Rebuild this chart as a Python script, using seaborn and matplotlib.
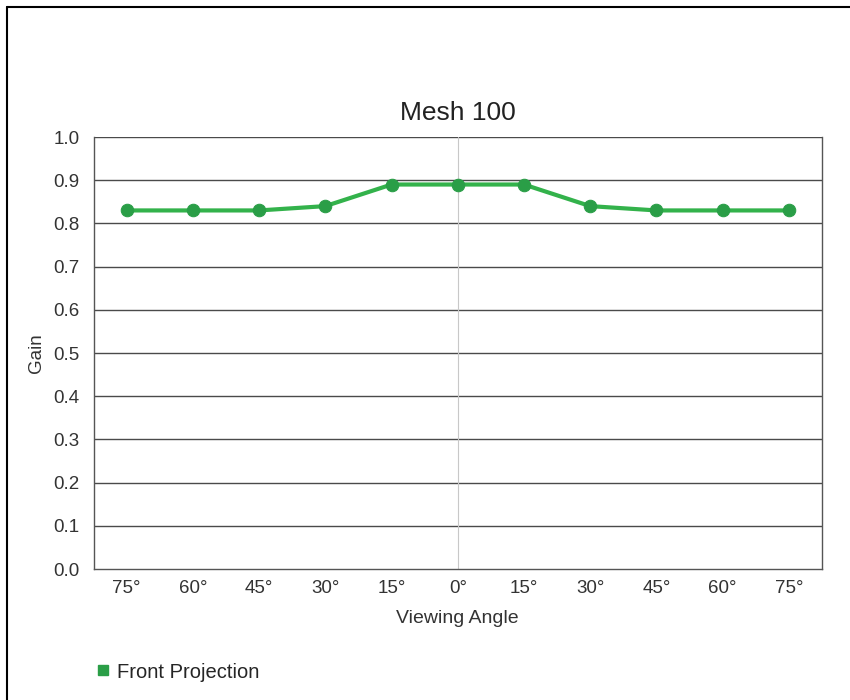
import matplotlib
matplotlib.use('Agg')
import matplotlib.pyplot as plt
from matplotlib.lines import Line2D
import seaborn as sns
import numpy as np
import pandas as pd

# values
angles = ['75°', '60°', '45°', '30°', '15°', '0°', '15°', '30°', '45°', '60°', '75°']
gain = [0.83, 0.83, 0.83, 0.84, 0.89, 0.89, 0.89, 0.84, 0.83, 0.83, 0.83]
yticks = [0.0, 0.1, 0.2, 0.3, 0.4, 0.5, 0.6, 0.7, 0.8, 0.9, 1.0]

data = pd.DataFrame({'pos': np.arange(len(angles)), 'Gain': gain})

sns.set_style('white')
plt.rcParams['font.family'] = ['Liberation Sans', 'DejaVu Sans']

fig = plt.figure(figsize=(8.5, 7), dpi=100)
ax = fig.add_axes([93.5 / 850, 1 - 569 / 700, (822 - 93.5) / 850, (569 - 137) / 700])

for y in yticks[1:]:
    ax.axhline(y, color='#4a4a4a', lw=1, zorder=1)
ax.axvline(5, color='#c8c8c8', lw=0.8, zorder=1)

sns.lineplot(data=data, x='pos', y='Gain', ax=ax, color='#33b24b', lw=3,
             marker='o', markersize=9, markerfacecolor='#2a9e47',
             markeredgecolor='#2a9e47', zorder=3)

ax.set_xlim(-0.5, len(angles) - 0.5)
ax.set_ylim(0, 1.0)
ax.set_yticks(yticks)
ax.set_yticklabels([f'{v:.1f}' for v in yticks], fontsize=13.5, color='#333333')
ax.set_xticks(data['pos'])
ax.set_xticklabels(angles, fontsize=13.5, color='#333333')
ax.set_xticks(np.arange(0.5, len(angles) - 1, 1), minor=True)
ax.tick_params(axis='x', which='major', length=0, pad=8)
ax.tick_params(axis='x', which='minor', length=9, width=1, color='#555555', direction='out')
ax.tick_params(axis='y', length=7, width=1, color='#555555', direction='out', pad=3)

for side in ['left', 'right', 'bottom']:
    ax.spines[side].set_color('#555555')
    ax.spines[side].set_linewidth(1)
ax.spines['top'].set_visible(False)

ax.set_title('Mesh 100', fontsize=19, color='#222222', pad=12)
ax.set_xlabel('Viewing Angle', fontsize=14, color='#333333', labelpad=9)
ax.set_ylabel('Gain', fontsize=13.5, color='#333333', labelpad=6)

handle = Line2D([], [], ls='none', marker='s', markersize=7, color='#2a9e47')
fig.legend([handle], ['Front Projection'], loc='center left',
           bbox_to_anchor=(75 / 850, 1 - 672 / 700), frameon=False,
           fontsize=14.5, handletextpad=0.2, handlelength=1.0)

# outer frame (left and top edges)
fig.add_artist(Line2D([7 / 850, 7 / 850], [0, 1 - 7 / 700], color='black', lw=1.5))
fig.add_artist(Line2D([7 / 850, 1], [1 - 7 / 700, 1 - 7 / 700], color='black', lw=1.5))

fig.savefig('out.png', dpi=100, facecolor='white')
